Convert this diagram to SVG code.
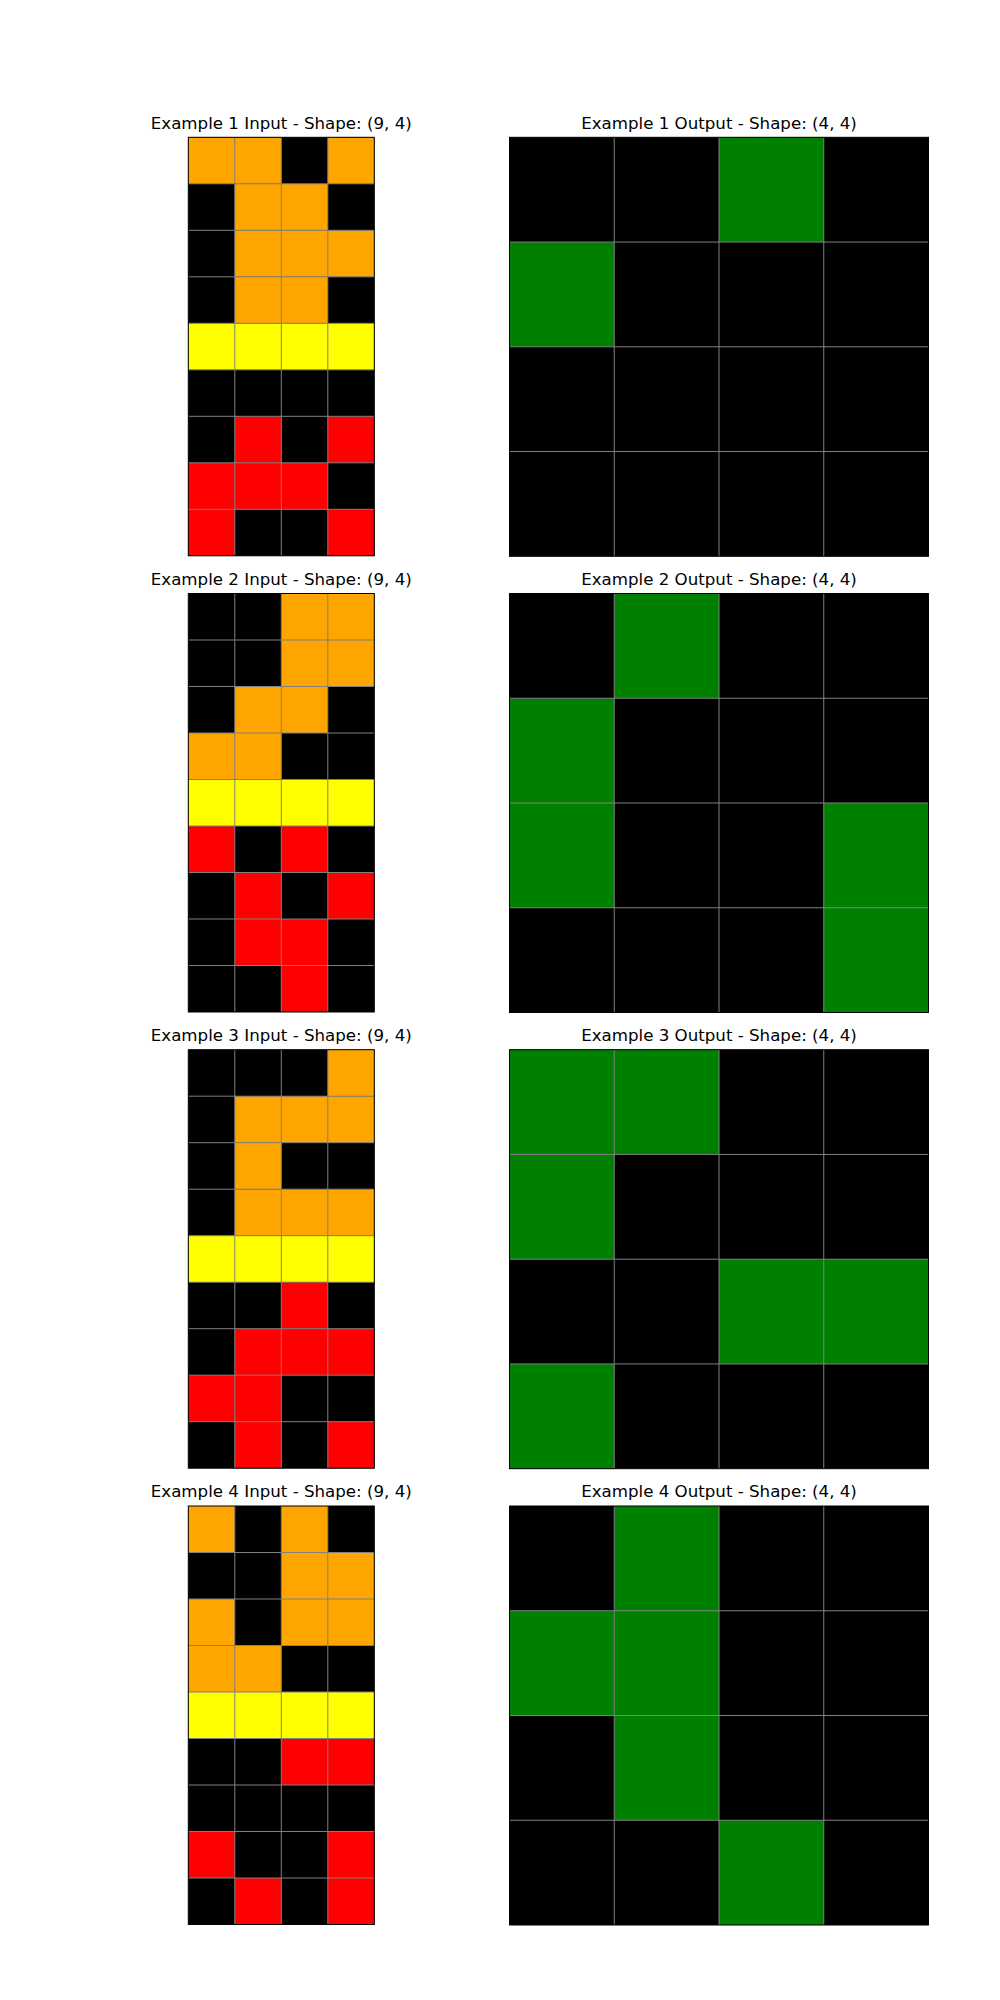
<svg xmlns="http://www.w3.org/2000/svg" xmlns:xlink="http://www.w3.org/1999/xlink" width="1000" height="2000" viewBox="0 0 1000 2000">
<style>
.bg{fill:#ffffff}
.k{fill:#000000}
.o{fill:#ffa500}
.y{fill:#ffff00}
.r{fill:#ff0000}
.g{fill:#008000}
.gl{fill:none;stroke:#808080;stroke-width:1}
.sp{fill:none;stroke:#000000;stroke-width:1}
.t{font-family:"DejaVu Sans","Liberation Sans",sans-serif;font-size:16.67px;fill:#000000;text-anchor:middle}
</style>
<defs>
<path id="inGrid" class="gl" d="M46.5 0V418.5M93 0V418.5M139.5 0V418.5M0 46.5H186M0 93H186M0 139.5H186M0 186H186M0 232.5H186M0 279H186M0 325.5H186M0 372H186"/>
<path id="outGrid" class="gl" d="M104.75 0V419M209.5 0V419M314.25 0V419M0 104.75H419M0 209.5H419M0 314.25H419"/>
<rect id="inBox" class="sp" x="0" y="0" width="186" height="418.5"/>
<rect id="outBox" class="sp" x="0" y="0" width="419" height="419"/>
</defs>
<rect class="bg" x="0" y="0" width="1000" height="2000"/>

<g id="titles">
<text class="t" x="281.3" y="128.5">Example 1 Input - Shape: (9, 4)</text>
<text class="t" x="719" y="128.5">Example 1 Output - Shape: (4, 4)</text>
<text class="t" x="281.3" y="584.7">Example 2 Input - Shape: (9, 4)</text>
<text class="t" x="719" y="584.7">Example 2 Output - Shape: (4, 4)</text>
<text class="t" x="281.3" y="1040.9">Example 3 Input - Shape: (9, 4)</text>
<text class="t" x="719" y="1040.9">Example 3 Output - Shape: (4, 4)</text>
<text class="t" x="281.3" y="1497.1">Example 4 Input - Shape: (9, 4)</text>
<text class="t" x="719" y="1497.1">Example 4 Output - Shape: (4, 4)</text>
</g>

<g id="ex1-input" transform="translate(188.3,137.3)">
<rect class="k" x="0" y="0" width="186" height="418.5"/>
<rect class="o" x="0" y="0" width="93" height="46.5"/>
<rect class="o" x="139.5" y="0" width="46.5" height="46.5"/>
<rect class="o" x="46.5" y="46.5" width="93" height="46.5"/>
<rect class="o" x="46.5" y="93" width="139.5" height="46.5"/>
<rect class="o" x="46.5" y="139.5" width="93" height="46.5"/>
<rect class="y" x="0" y="186" width="186" height="46.5"/>
<rect class="r" x="46.5" y="279" width="46.5" height="46.5"/>
<rect class="r" x="139.5" y="279" width="46.5" height="46.5"/>
<rect class="r" x="0" y="325.5" width="139.5" height="46.5"/>
<rect class="r" x="0" y="372" width="46.5" height="46.5"/>
<rect class="r" x="139.5" y="372" width="46.5" height="46.5"/>
<use xlink:href="#inGrid"/><use xlink:href="#inBox"/>
</g>
<g id="ex1-output" transform="translate(509.5,137.3)">
<rect class="k" x="0" y="0" width="419" height="419"/>
<rect class="g" x="209.5" y="0" width="104.75" height="104.75"/>
<rect class="g" x="0" y="104.75" width="104.75" height="104.75"/>
<use xlink:href="#outGrid"/><use xlink:href="#outBox"/>
</g>

<g id="ex2-input" transform="translate(188.3,593.5)">
<rect class="k" x="0" y="0" width="186" height="418.5"/>
<rect class="o" x="93" y="0" width="93" height="93"/>
<rect class="o" x="46.5" y="93" width="93" height="46.5"/>
<rect class="o" x="0" y="139.5" width="93" height="46.5"/>
<rect class="y" x="0" y="186" width="186" height="46.5"/>
<rect class="r" x="0" y="232.5" width="46.5" height="46.5"/>
<rect class="r" x="93" y="232.5" width="46.5" height="46.5"/>
<rect class="r" x="46.5" y="279" width="46.5" height="46.5"/>
<rect class="r" x="139.5" y="279" width="46.5" height="46.5"/>
<rect class="r" x="46.5" y="325.5" width="93" height="46.5"/>
<rect class="r" x="93" y="372" width="46.5" height="46.5"/>
<use xlink:href="#inGrid"/><use xlink:href="#inBox"/>
</g>
<g id="ex2-output" transform="translate(509.5,593.5)">
<rect class="k" x="0" y="0" width="419" height="419"/>
<rect class="g" x="104.75" y="0" width="104.75" height="104.75"/>
<rect class="g" x="0" y="104.75" width="104.75" height="209.5"/>
<rect class="g" x="314.25" y="209.5" width="104.75" height="209.5"/>
<use xlink:href="#outGrid"/><use xlink:href="#outBox"/>
</g>

<g id="ex3-input" transform="translate(188.3,1049.7)">
<rect class="k" x="0" y="0" width="186" height="418.5"/>
<rect class="o" x="139.5" y="0" width="46.5" height="46.5"/>
<rect class="o" x="46.5" y="46.5" width="139.5" height="46.5"/>
<rect class="o" x="46.5" y="93" width="46.5" height="46.5"/>
<rect class="o" x="46.5" y="139.5" width="139.5" height="46.5"/>
<rect class="y" x="0" y="186" width="186" height="46.5"/>
<rect class="r" x="93" y="232.5" width="46.5" height="46.5"/>
<rect class="r" x="46.5" y="279" width="139.5" height="46.5"/>
<rect class="r" x="0" y="325.5" width="93" height="46.5"/>
<rect class="r" x="46.5" y="372" width="46.5" height="46.5"/>
<rect class="r" x="139.5" y="372" width="46.5" height="46.5"/>
<use xlink:href="#inGrid"/><use xlink:href="#inBox"/>
</g>
<g id="ex3-output" transform="translate(509.5,1049.7)">
<rect class="k" x="0" y="0" width="419" height="419"/>
<rect class="g" x="0" y="0" width="209.5" height="104.75"/>
<rect class="g" x="0" y="104.75" width="104.75" height="104.75"/>
<rect class="g" x="209.5" y="209.5" width="209.5" height="104.75"/>
<rect class="g" x="0" y="314.25" width="104.75" height="104.75"/>
<use xlink:href="#outGrid"/><use xlink:href="#outBox"/>
</g>

<g id="ex4-input" transform="translate(188.3,1506)">
<rect class="k" x="0" y="0" width="186" height="418.5"/>
<rect class="o" x="0" y="0" width="46.5" height="46.5"/>
<rect class="o" x="93" y="0" width="46.5" height="46.5"/>
<rect class="o" x="93" y="46.5" width="93" height="46.5"/>
<rect class="o" x="0" y="93" width="46.5" height="46.5"/>
<rect class="o" x="93" y="93" width="93" height="46.5"/>
<rect class="o" x="0" y="139.5" width="93" height="46.5"/>
<rect class="y" x="0" y="186" width="186" height="46.5"/>
<rect class="r" x="93" y="232.5" width="93" height="46.5"/>
<rect class="r" x="0" y="325.5" width="46.5" height="46.5"/>
<rect class="r" x="139.5" y="325.5" width="46.5" height="46.5"/>
<rect class="r" x="46.5" y="372" width="46.5" height="46.5"/>
<rect class="r" x="139.5" y="372" width="46.5" height="46.5"/>
<use xlink:href="#inGrid"/><use xlink:href="#inBox"/>
</g>
<g id="ex4-output" transform="translate(509.5,1506)">
<rect class="k" x="0" y="0" width="419" height="419"/>
<rect class="g" x="104.75" y="0" width="104.75" height="314.25"/>
<rect class="g" x="0" y="104.75" width="104.75" height="104.75"/>
<rect class="g" x="209.5" y="314.25" width="104.75" height="104.75"/>
<use xlink:href="#outGrid"/><use xlink:href="#outBox"/>
</g>
</svg>
